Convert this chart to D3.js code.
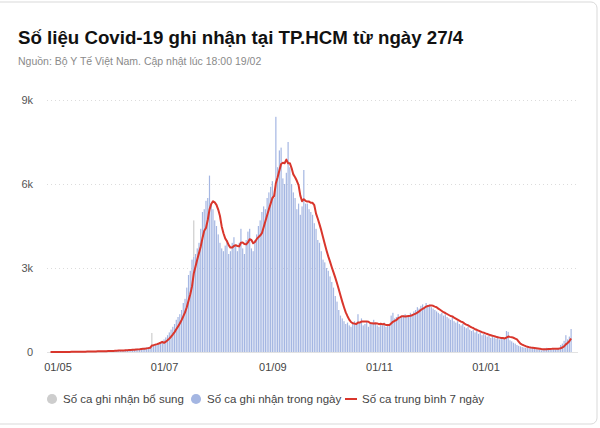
<!DOCTYPE html>
<html>
<head>
<meta charset="utf-8">
<script src="https://cdn.jsdelivr.net/npm/d3@7"></script>
<style>
  body { margin: 0; background: #fff; }
  .container { width: 600px; height: 428px; overflow: hidden; }
  text { font-family: "Liberation Sans", Arial, sans-serif; }
</style>
</head>
<body>
<div class="container"></div>
<script>
const w = 600
const h = 428

// daily cases ("Số ca ghi nhận trong ngày"), one array per month, starting 27/4/2021
const apr = [2, 0, 1, 3]
const may = [2, 4, 1, 5, 3, 6, 8, 4, 7, 10, 9, 12, 8, 15, 11, 18, 14, 20, 16, 24, 19, 28, 22, 30, 26, 35, 31, 40, 34, 45, 38]
const jun = [50, 42, 58, 47, 65, 55, 72, 60, 80, 70, 90, 78, 100, 88, 110, 120, 105, 135, 125, 150, 160, 175, 190, 220, 230, 260, 280, 320, 350, 400]
const jul = [450, 520, 600, 700, 800, 900, 1000, 1150, 1250, 1350, 1500, 1750, 1900, 2300, 2750, 2900, 3300, 3400, 3500, 3700, 3900, 4400, 5000, 5100, 5400, 5500, 6300, 5300, 5100, 4700, 4500]
const aug = [4200, 3900, 3700, 3600, 3800, 4000, 3500, 3600, 3900, 4100, 3800, 3600, 3900, 4400, 3700, 3500, 4000, 4300, 4400, 3700, 3600, 4000, 4200, 4500, 4700, 5000, 5200, 5100, 5500, 5700, 5900]
const sep = [6100, 5500, 8400, 6600, 7200, 7300, 6200, 6000, 6400, 7500, 6600, 6000, 5700, 5500, 5100, 5300, 4900, 5200, 6500, 5300, 5300, 5100, 5000, 4900, 4600, 4400, 4000, 3900, 3600, 3300]
const oct = [3200, 3000, 2900, 2700, 2500, 2300, 2000, 1800, 1500, 1300, 1200, 1100, 1000, 1050, 950, 900, 1000, 1100, 1000, 1350, 1050, 1200, 950, 1000, 1100, 900, 1050, 1000, 1150, 1000, 950]
const nov = [900, 1000, 950, 1050, 900, 1000, 950, 1300, 1400, 1200, 1250, 1350, 1200, 1250, 1300, 1350, 1250, 1300, 1400, 1350, 1450, 1500, 1600, 1550, 1650, 1700, 1600, 1750, 1650, 1700]
const dec = [1600, 1550, 1500, 1450, 1400, 1350, 1400, 1300, 1350, 1250, 1200, 1150, 1250, 1100, 1050, 1100, 1000, 950, 1000, 900, 850, 900, 800, 750, 800, 700, 750, 650, 700, 600, 650]
const jan = [600, 550, 600, 500, 550, 520, 480, 500, 450, 480, 500, 460, 750, 720, 420, 380, 330, 300, 250, 220, 200, 180, 160, 150, 140, 130, 150, 140, 120, 100, 90]
const feb = [80, 60, 90, 120, 150, 140, 130, 110, 100, 90, 120, 150, 250, 300, 400, 600, 450, 550, 820]

// supplementary cases ("Số ca ghi nhận bổ sung")
const extraDates = ["2021-06-24", "2021-07-18"]
const extraValues = [460, 1300]

const startDate = "2021-04-27"
const tickDates = ["2021-05-01", "2021-07-01", "2021-09-01", "2021-11-01", "2022-01-01"]
const tickLabels = ["01/05", "01/07", "01/09", "01/11", "01/01"]
const yTicks = [0, 3000, 6000, 9000]
const yLabels = ["0", "3k", "6k", "9k"]

const legendKeys = ["Số ca ghi nhận bổ sung", "Số ca ghi nhận trong ngày", "Số ca trung bình 7 ngày"]
const colors = ["#cdcdcd", "#a4b6e2", "#d9362c"]

const parse = d3.utcParse("%Y-%m-%d")
const start = parse(startDate)
const daily = [].concat(apr, may, jun, jul, aug, sep, oct, nov, dec, jan, feb)
const extraMap = new Map(extraDates.map((d, i) => [+parse(d), extraValues[i]]))

const dataset = daily.map((v, i) => {
  const date = d3.utcDay.offset(start, i)
  const extra = extraMap.get(+date) || 0
  return { date, value: v, extra, total: v + extra }
})
dataset.forEach((d, i) => {
  const win = dataset.slice(Math.max(0, i - 6), i + 1)
  d.avg = d3.mean(win, e => e.total)
})

const svg = d3.select(".container")
              .append("svg")
              .attr("width", w)
              .attr("height", h)

// card frame
svg.append("rect")
   .attr("x", -10)
   .attr("y", 2)
   .attr("width", 607)
   .attr("height", 422)
   .attr("rx", 6)
   .attr("fill", "#fff")
   .attr("stroke", "#d9d9d9")

svg.append("text")
   .attr("x", 18)
   .attr("y", 44)
   .text("Số liệu Covid-19 ghi nhận tại TP.HCM từ ngày 27/4")
   .style("font-size", "18.7px")
   .style("font-weight", "bold")
   .attr("fill", "#111")

svg.append("text")
   .attr("x", 18)
   .attr("y", 65)
   .text("Nguồn: Bộ Y Tế Việt Nam. Cập nhật lúc 18:00 19/02")
   .style("font-size", "10.5px")
   .attr("fill", "#8a8a8a")

const xScale = d3.scaleUtc()
                 .domain([parse("2021-05-01"), parse("2022-01-01")])
                 .range([57.5, 485.5])
const yScale = d3.scaleLinear()
                 .domain([0, 9000])
                 .range([352, 100])

const step = xScale(d3.utcDay.offset(start, 1)) - xScale(start)
const barW = step * 0.68

// grid
const grid = svg.append("g")
                .attr("transform", "translate(47, 0)")
                .call(d3.axisLeft(yScale)
                        .tickValues(yTicks)
                        .tickSize(-531)
                        .tickFormat(""))
grid.select(".domain").remove()
grid.selectAll(".tick line")
    .attr("stroke", d => d === 0 ? "#e2e2e2" : "#dcdcdc")
    .attr("stroke-dasharray", d => d === 0 ? null : "1,3")

svg.append("g")
   .attr("id", "y-axis")
   .attr("transform", "translate(33, 0)")
   .call(d3.axisLeft(yScale)
           .tickValues(yTicks)
           .tickSize(0)
           .tickFormat((d, i) => yLabels[i]))
   .call(g => g.select(".domain").remove())
   .selectAll("text")
     .attr("x", 0)
     .attr("fill", "#555")
     .style("font-size", "11px")

svg.append("g")
   .attr("id", "x-axis")
   .attr("transform", "translate(0, 360)")
   .call(d3.axisBottom(xScale)
           .tickValues(tickDates.map(parse))
           .tickSize(0)
           .tickFormat((d, i) => tickLabels[i]))
   .call(g => g.select(".domain").remove())
   .selectAll("text")
     .attr("fill", "#444")
     .style("font-size", "11px")

// bars
svg.selectAll(".bar")
   .data(dataset)
   .enter()
   .append("rect")
     .attr("class", "bar")
     .attr("x", d => xScale(d.date) - barW / 2)
     .attr("width", barW)
     .attr("y", d => yScale(d.value))
     .attr("height", d => yScale(0) - yScale(d.value))
     .attr("fill", colors[1])

svg.selectAll(".extra")
   .data(dataset.filter(d => d.extra > 0))
   .enter()
   .append("rect")
     .attr("class", "extra")
     .attr("x", d => xScale(d.date) - barW / 2)
     .attr("width", barW)
     .attr("y", d => yScale(d.total))
     .attr("height", d => yScale(d.value) - yScale(d.total))
     .attr("fill", colors[0])

const line = d3.line()
               .x(d => xScale(d.date))
               .y(d => yScale(d.avg))

svg.append("path")
   .datum(dataset)
   .attr("d", line)
   .attr("fill", "none")
   .attr("stroke", colors[2])
   .attr("stroke-width", 2)
   .attr("stroke-linejoin", "round")

// legend
const legendX = [52, 196, 351]
const legend = svg.append("g")
                  .attr("id", "legend")
                  .attr("transform", "translate(0, 399)")

legend.selectAll(".icon")
      .data(legendKeys)
      .enter()
      .append("path")
        .attr("d", (d, i) => i < 2
          ? d3.symbol().type(d3.symbolCircle).size(80)()
          : "M-6,0H6")
        .attr("transform", (d, i) => `translate(${legendX[i]}, 0)`)
        .attr("fill", (d, i) => i < 2 ? colors[i] : "none")
        .attr("stroke", (d, i) => i < 2 ? "none" : colors[2])
        .attr("stroke-width", 2)

legend.selectAll(".label")
      .data(legendKeys)
      .enter()
      .append("text")
        .text(d => d)
        .attr("x", (d, i) => legendX[i] + 11)
        .attr("dy", "0.35em")
        .attr("fill", "#444")
        .style("font-size", "11.5px")
</script>
</body>
</html>
